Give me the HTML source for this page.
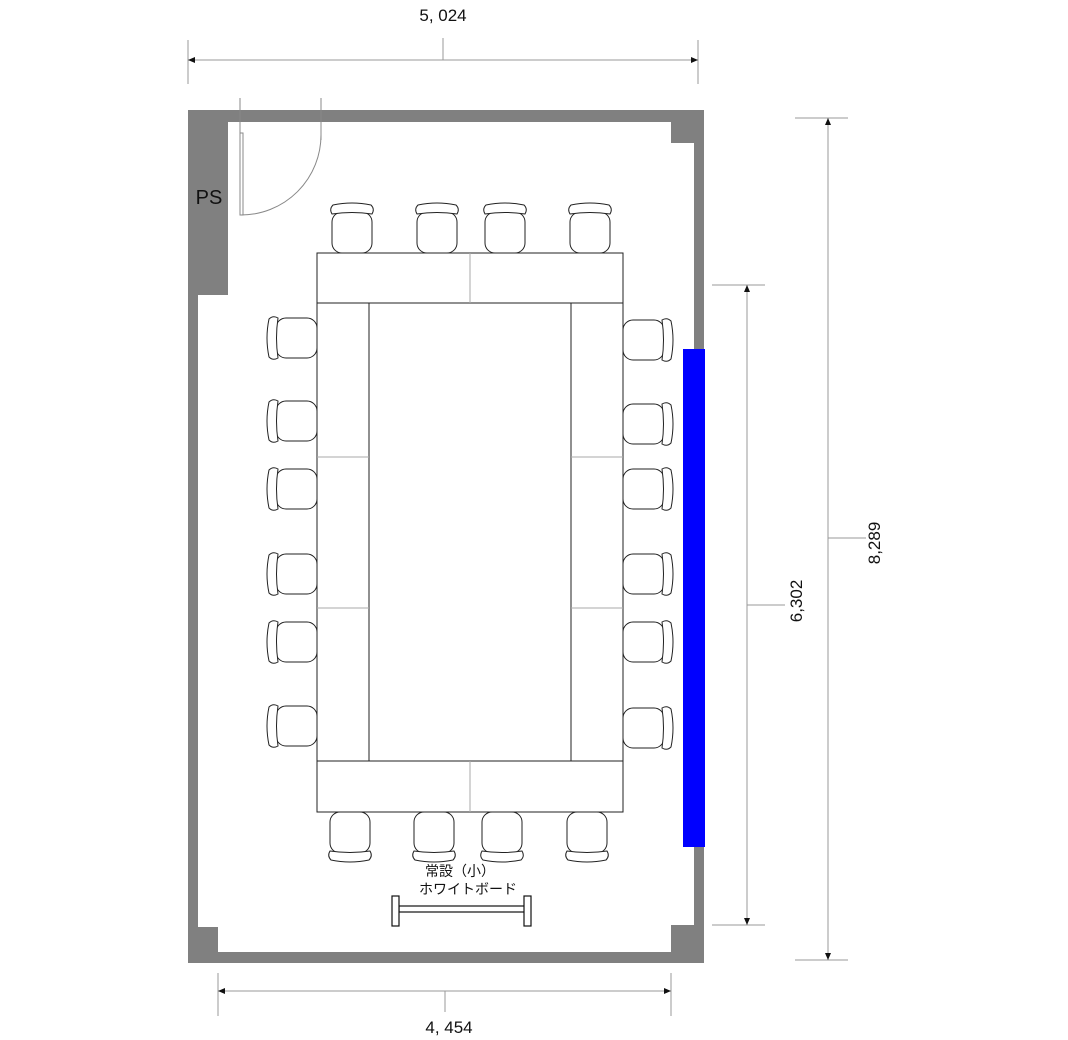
<!DOCTYPE html>
<html><head><meta charset="utf-8"><style>
html,body{margin:0;padding:0;background:#fff;}
svg{display:block;}
text{font-family:"Liberation Sans","Noto Sans CJK JP",sans-serif;fill:#111;}
</style></head><body>
<svg width="1068" height="1040" viewBox="0 0 1068 1040" xmlns="http://www.w3.org/2000/svg">
<defs>
<g id="ch" fill="#fff" stroke="#222" stroke-width="1">
  <rect x="-20" y="-16" width="40" height="41" rx="10"/>
  <path d="M-20,-14 Q-23,-19 -19,-23 Q0,-27 19,-23 Q23,-19 20,-14 Q0,-17 -20,-14 Z"/>
</g>
</defs>
<g fill="#808080">
  <rect x="188" y="110" width="516" height="12"/>
  <rect x="188" y="110" width="10" height="853"/>
  <rect x="188" y="110" width="40" height="185"/>
  <rect x="694" y="110" width="10" height="853"/>
  <rect x="671" y="110" width="33" height="33"/>
  <rect x="188" y="952" width="516" height="11"/>
  <rect x="188" y="927" width="30" height="36"/>
  <rect x="671" y="925" width="33" height="38"/>
</g>
<rect x="683" y="349" width="22" height="498" fill="#0000ff"/>
<text x="209" y="204" font-size="20" text-anchor="middle">PS</text>
<g fill="none" stroke="#888" stroke-width="1">
  <line x1="240" y1="98" x2="240" y2="215"/>
  <line x1="321" y1="98" x2="321" y2="140"/>
  <rect x="240" y="133" width="3" height="82" fill="#fff"/>
  <path d="M241,215 A80,80 0 0 0 321,135"/>
</g>
<g fill="#fff" stroke="#222" stroke-width="1">
  <rect x="317" y="253" width="306" height="559"/>
  <line x1="317" y1="303" x2="623" y2="303"/>
  <line x1="317" y1="761" x2="623" y2="761"/>
  <line x1="369" y1="303" x2="369" y2="761"/>
  <line x1="571" y1="303" x2="571" y2="761"/>
</g>
<g stroke="#aaa" stroke-width="1">
  <line x1="470" y1="253" x2="470" y2="303"/>
  <line x1="470" y1="761" x2="470" y2="812"/>
  <line x1="317" y1="457" x2="369" y2="457"/>
  <line x1="317" y1="608" x2="369" y2="608"/>
  <line x1="571" y1="457" x2="623" y2="457"/>
  <line x1="571" y1="608" x2="623" y2="608"/>
</g>
<use href="#ch" transform="translate(352,228)"/>
<use href="#ch" transform="translate(437,228)"/>
<use href="#ch" transform="translate(505,228)"/>
<use href="#ch" transform="translate(590,228)"/>
<use href="#ch" transform="translate(350,837) rotate(180)"/>
<use href="#ch" transform="translate(434,837) rotate(180)"/>
<use href="#ch" transform="translate(502,837) rotate(180)"/>
<use href="#ch" transform="translate(587,837) rotate(180)"/>
<use href="#ch" transform="translate(292,338) rotate(-90)"/>
<use href="#ch" transform="translate(292,421) rotate(-90)"/>
<use href="#ch" transform="translate(292,489) rotate(-90)"/>
<use href="#ch" transform="translate(292,574) rotate(-90)"/>
<use href="#ch" transform="translate(292,642) rotate(-90)"/>
<use href="#ch" transform="translate(292,726) rotate(-90)"/>
<use href="#ch" transform="translate(648,340) rotate(90)"/>
<use href="#ch" transform="translate(648,424) rotate(90)"/>
<use href="#ch" transform="translate(648,489) rotate(90)"/>
<use href="#ch" transform="translate(648,574) rotate(90)"/>
<use href="#ch" transform="translate(648,642) rotate(90)"/>
<use href="#ch" transform="translate(648,728) rotate(90)"/>
<text x="460" y="876" font-size="14" text-anchor="middle">常設（小）</text>
<text x="468" y="894" font-size="14" text-anchor="middle">ホワイトボード</text>
<g fill="#fff" stroke="#111" stroke-width="1.2">
  <rect x="399" y="906" width="126" height="6"/>
  <rect x="392" y="896" width="7" height="30"/>
  <rect x="524" y="896" width="7" height="30"/>
</g>
<g stroke="#999" stroke-width="1" fill="none">
  <line x1="188" y1="60" x2="698" y2="60"/>
  <line x1="188" y1="40" x2="188" y2="84"/>
  <line x1="698" y1="40" x2="698" y2="84"/>
  <line x1="443" y1="38" x2="443" y2="60"/>
  <line x1="828" y1="118" x2="828" y2="960"/>
  <line x1="795" y1="118" x2="848" y2="118"/>
  <line x1="795" y1="960" x2="848" y2="960"/>
  <line x1="828" y1="538" x2="866" y2="538"/>
  <line x1="747" y1="285" x2="747" y2="925"/>
  <line x1="712" y1="285" x2="765" y2="285"/>
  <line x1="712" y1="925" x2="765" y2="925"/>
  <line x1="747" y1="605" x2="785" y2="605"/>
  <line x1="218" y1="991" x2="671" y2="991"/>
  <line x1="218" y1="973" x2="218" y2="1016"/>
  <line x1="671" y1="973" x2="671" y2="1016"/>
  <line x1="445" y1="991" x2="445" y2="1012"/>
</g>
<g fill="#111">
  <path d="M188,60 l7,-3 v6 z"/><path d="M698,60 l-7,-3 v6 z"/>
  <path d="M828,118 l-3,7 h6 z"/><path d="M828,960 l-3,-7 h6 z"/>
  <path d="M747,285 l-3,7 h6 z"/><path d="M747,925 l-3,-7 h6 z"/>
  <path d="M218,991 l7,-3 v6 z"/><path d="M671,991 l-7,-3 v6 z"/>
</g>
<text x="443" y="21" font-size="17" text-anchor="middle">5, 024</text>
<text x="449" y="1033" font-size="17" text-anchor="middle">4, 454</text>
<text transform="translate(880,543) rotate(-90)" font-size="17" text-anchor="middle">8,289</text>
<text transform="translate(802,601) rotate(-90)" font-size="17" text-anchor="middle">6,302</text>
</svg>
</body></html>
